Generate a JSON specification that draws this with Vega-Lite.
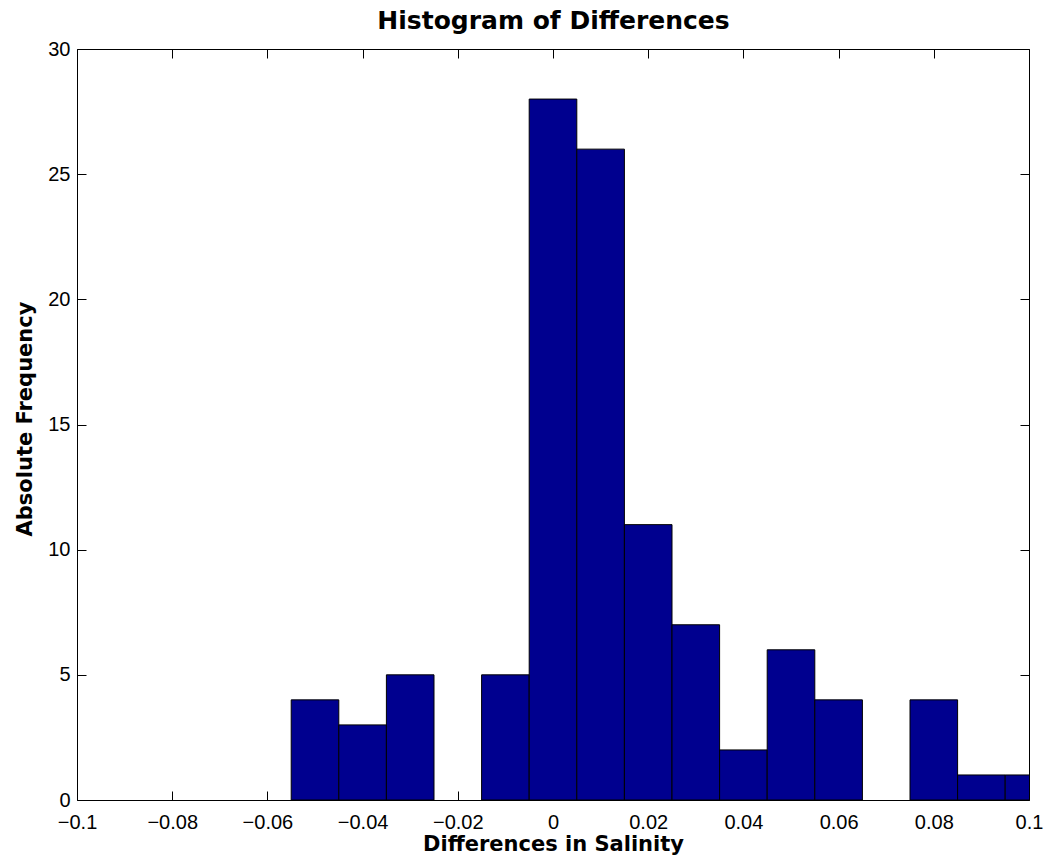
{
  "$schema": "https://vega.github.io/schema/vega-lite/v6.json",
  "width": 952,
  "height": 751,
  "autosize": {"type": "none"},
  "padding": {"left": 77, "top": 49, "right": 19, "bottom": 63},
  "background": "white",
  "data": {
    "values": [
      {"start": -0.055, "end": -0.045, "count": 4},
      {"start": -0.045, "end": -0.035, "count": 3},
      {"start": -0.035, "end": -0.025, "count": 5},
      {"start": -0.015, "end": -0.005, "count": 5},
      {"start": -0.005, "end": 0.005, "count": 28},
      {"start": 0.005, "end": 0.015, "count": 26},
      {"start": 0.015, "end": 0.025, "count": 11},
      {"start": 0.025, "end": 0.035, "count": 7},
      {"start": 0.035, "end": 0.045, "count": 2},
      {"start": 0.045, "end": 0.055, "count": 6},
      {"start": 0.055, "end": 0.065, "count": 4},
      {"start": 0.075, "end": 0.085, "count": 4},
      {"start": 0.085, "end": 0.095, "count": 1},
      {"start": 0.095, "end": 0.105, "count": 1}
    ]
  },
  "config": {
    "view": {"stroke": null},
    "axis": {
      "grid": false,
      "domainColor": "black",
      "domainWidth": 1,
      "tickColor": "black",
      "tickWidth": 1,
      "tickSize": -9,
      "labelColor": "black",
      "labelFont": "Liberation Sans",
      "labelFontSize": 20,
      "labelFlush": false,
      "labelOverlap": false,
      "labelBound": false,
      "titleColor": "black",
      "titleFont": "DejaVu Sans",
      "titleFontSize": 21,
      "titleFontWeight": "bold"
    }
  },
  "layer": [
    {
      "mark": {"type": "rect", "fill": "#00008F", "stroke": "black", "strokeWidth": 1, "clip": true},
      "encoding": {
        "x": {
          "field": "start",
          "type": "quantitative",
          "scale": {"domain": [-0.1, 0.1], "nice": false, "zero": false},
          "axis": {
            "orient": "bottom",
            "values": [-0.1, -0.08, -0.06, -0.04, -0.02, 0, 0.02, 0.04, 0.06, 0.08, 0.1],
            "format": "~g",
            "labelPadding": 21,
            "title": "Differences in Salinity",
            "titleBaseline": "alphabetic",
            "titleY": 50.5
          }
        },
        "x2": {"field": "end"},
        "y": {
          "field": "count",
          "type": "quantitative",
          "scale": {"domain": [0, 30], "nice": false},
          "axis": {
            "orient": "left",
            "values": [0, 5, 10, 15, 20, 25, 30],
            "format": "d",
            "labelPadding": 16,
            "title": "Absolute Frequency",
            "titleBaseline": "alphabetic",
            "titleX": -45.3,
            "titleY": 369.5
          }
        }
      }
    },
    {
      "mark": {"type": "rect", "opacity": 0, "clip": true},
      "encoding": {
        "x": {
          "field": "start",
          "type": "quantitative",
          "scale": {"domain": [-0.1, 0.1], "nice": false, "zero": false},
          "axis": {
            "orient": "top",
            "values": [-0.1, -0.08, -0.06, -0.04, -0.02, 0, 0.02, 0.04, 0.06, 0.08, 0.1],
            "labels": false,
            "title": "Histogram of Differences",
            "titleFontSize": 25,
            "titleBaseline": "alphabetic",
            "titleAlign": "center",
            "titleX": 476,
            "titleY": -20.7
          }
        },
        "x2": {"field": "end"},
        "y": {
          "field": "count",
          "type": "quantitative",
          "scale": {"domain": [0, 30], "nice": false},
          "axis": {
            "orient": "right",
            "values": [0, 5, 10, 15, 20, 25, 30],
            "labels": false,
            "title": null
          }
        }
      }
    }
  ],
  "resolve": {"axis": {"x": "independent", "y": "independent"}}
}
